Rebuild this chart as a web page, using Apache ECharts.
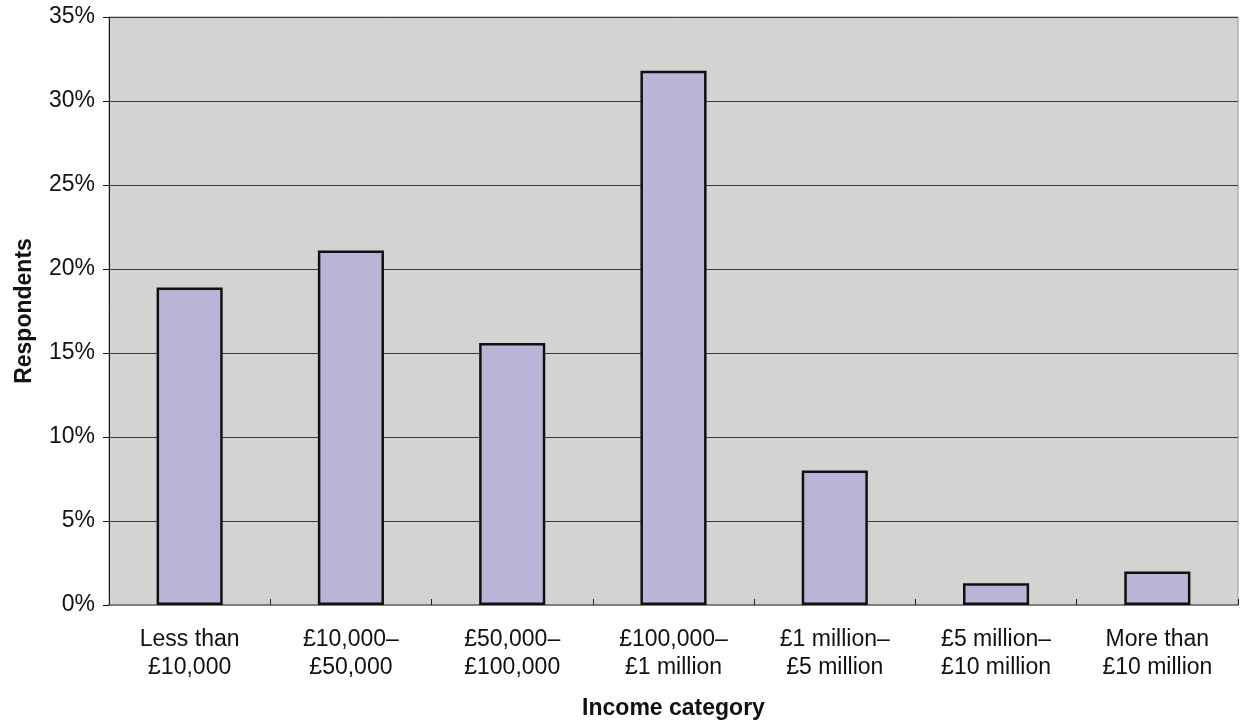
<!DOCTYPE html>
<html>
<head>
<meta charset="utf-8">
<script src="https://cdn.jsdelivr.net/npm/echarts@6/dist/echarts.min.js"></script>
<style>
  html, body { margin: 0; padding: 0; background: #fff; }
  #chart { width: 1246px; height: 723px; }
</style>
</head>
<body>
<div id="chart"></div>
<script>
// categories and values (percent of respondents)
var categories = [
  'Less than\n£10,000',
  '£10,000–\n£50,000',
  '£50,000–\n£100,000',
  '£100,000–\n£1 million',
  '£1 million–\n£5 million',
  '£5 million–\n£10 million',
  'More than\n£10 million'
];
var respondents = [18.9, 21.1, 15.6, 31.8, 8.0, 1.3, 2.0];
var yTicks = [0, 5, 10, 15, 20, 25, 30, 35];

var myChart = echarts.init(document.getElementById('chart'));

var option = {
  animation: false,
  textStyle: { fontFamily: 'Liberation Sans, Arial, sans-serif', color: '#111' },
  grid: {
    left: 109, right: 8, top: 17, bottom: 118,
    outerBoundsMode: 'none',
    show: true,
    backgroundColor: '#d4d3d1',
    borderColor: '#9a9a9a',
    borderWidth: 1
  },
  xAxis: {
    type: 'category',
    data: categories,
    name: 'Income category',
    nameLocation: 'middle',
    nameGap: 92,
    nameTextStyle: { fontSize: 23, fontWeight: 'bold', color: '#111' },
    axisLine: { lineStyle: { color: '#7f7f7f', width: 2 } },
    axisTick: { show: true, inside: true, length: 6, lineStyle: { color: '#222' } },
    axisLabel: { fontSize: 23, color: '#111', lineHeight: 28, margin: 21, interval: 0 }
  },
  yAxis: {
    type: 'value',
    min: yTicks[0],
    max: yTicks[yTicks.length - 1],
    interval: 5,
    name: 'Respondents',
    nameLocation: 'middle',
    nameGap: 73,
    nameTextStyle: { fontSize: 23, fontWeight: 'bold', color: '#111' },
    axisLine: { show: true, lineStyle: { color: '#111', width: 1 } },
    axisTick: { show: true, length: 6, lineStyle: { color: '#111' } },
    axisLabel: { fontSize: 23, color: '#111', margin: 14, formatter: '{value}%' },
    splitLine: { show: true, lineStyle: { color: '#3a3a3a', width: 1 } }
  },
  series: [{
    type: 'bar',
    data: respondents,
    barWidth: '41%',
    itemStyle: { color: '#b8b5d6', borderColor: '#111', borderWidth: 2.5 }
  }]
};

myChart.setOption(option);
</script>
</body>
</html>
